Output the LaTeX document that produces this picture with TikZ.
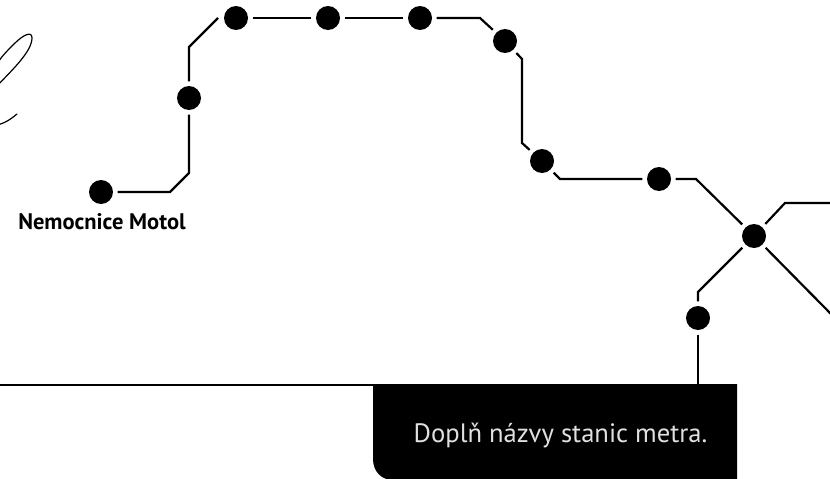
\documentclass[tikz,border=0pt]{standalone}
\usepackage{fontspec}
\setmainfont{PT Sans}
\begin{document}
\begin{tikzpicture}[x=1pt,y=-1pt,
  stn/.style={circle,fill=black,minimum size=24pt,inner sep=0pt,outer sep=4.6pt},
  lin/.style={line width=2.2pt,black,line join=miter},
  hand/.style={line width=1.2pt,black,line cap=round}]
\useasboundingbox (0,0) rectangle (830,479);
\fill[white] (0,0) rectangle (830,479);
% handwriting fragment
\begin{scope}
\clip (0,0) rectangle (60,140);
\draw[hand] (-3,86) .. controls (10,72) and (32,52) .. (32,38) .. controls (32,31) and (24,34) .. (14,44) .. controls (6,52) and (0,58) .. (-4,66);
\draw[hand] (-4,125) .. controls (4,124) and (11,119) .. (17,114);
\end{scope}
% stations
\node[stn] (a) at (101,192) {};
\node[stn] (b) at (189,98) {};
\node[stn] (c) at (236,18) {};
\node[stn] (d) at (328,18) {};
\node[stn] (e) at (420,18) {};
\node[stn] (f) at (505,41) {};
\node[stn] (g) at (542,161) {};
\node[stn] (h) at (659,179) {};
\node[stn] (x) at (754,236) {};
\node[stn] (y) at (698,318) {};
% bends and free ends
\coordinate (ab1) at (170,192);
\coordinate (ab2) at (189,173);
\coordinate (bc1) at (189,47);
\coordinate (bc2) at (218,18);
\coordinate (ef1) at (480,18);
\coordinate (fg1) at (522,59);
\coordinate (fg2) at (522,143);
\coordinate (gh1) at (560,179);
\coordinate (hx1) at (696,179);
\coordinate (xr1) at (785,203);
\coordinate (xr2) at (831,203);
\coordinate (xs) at (831,314);
\coordinate (xy1) at (698,292);
\coordinate (ybase) at (698,385);
\coordinate (bl) at (-1,385);
\coordinate (br) at (373,385);
% connectors
\draw[lin] (a) -- (a.center -| ab1) -- (ab2) -- (b);
\draw[lin] (b) -- (bc1) -- (bc2);
\draw[lin] (c) -- (d);
\draw[lin] (d) -- (e);
\draw[lin] (e) -- (ef1) -- (f);
\draw[lin] (f) -- (fg1) -- (fg2) -- (g);
\draw[lin] (g) -- (gh1) -- (h);
\draw[lin] (h) -- (hx1) -- (x);
\draw[lin] (x) -- (xr1) -- (xr2);
\draw[lin] (x) -- (xs);
\draw[lin] (x) -- (xy1) -- (y);
\draw[lin] (y) -- (ybase);
\draw[lin] (bl) -- (br);
% black box
\fill[black] (373,384) -- (737,384) -- (737,480) -- (393,480) .. controls (381,480) and (373,471) .. (373,459) -- cycle;
% labels
\node[font=\bfseries\fontsize{22.5}{26}\selectfont,anchor=center,inner sep=0pt] (lab) at (102,221.5) {Nemocnice Motol};
\node[font=\fontsize{26.6}{30}\selectfont,text=white!88!black,anchor=center,inner sep=0pt] (note) at (560.5,435.5) {Doplň názvy stanic metra.};
\end{tikzpicture}
\end{document}
